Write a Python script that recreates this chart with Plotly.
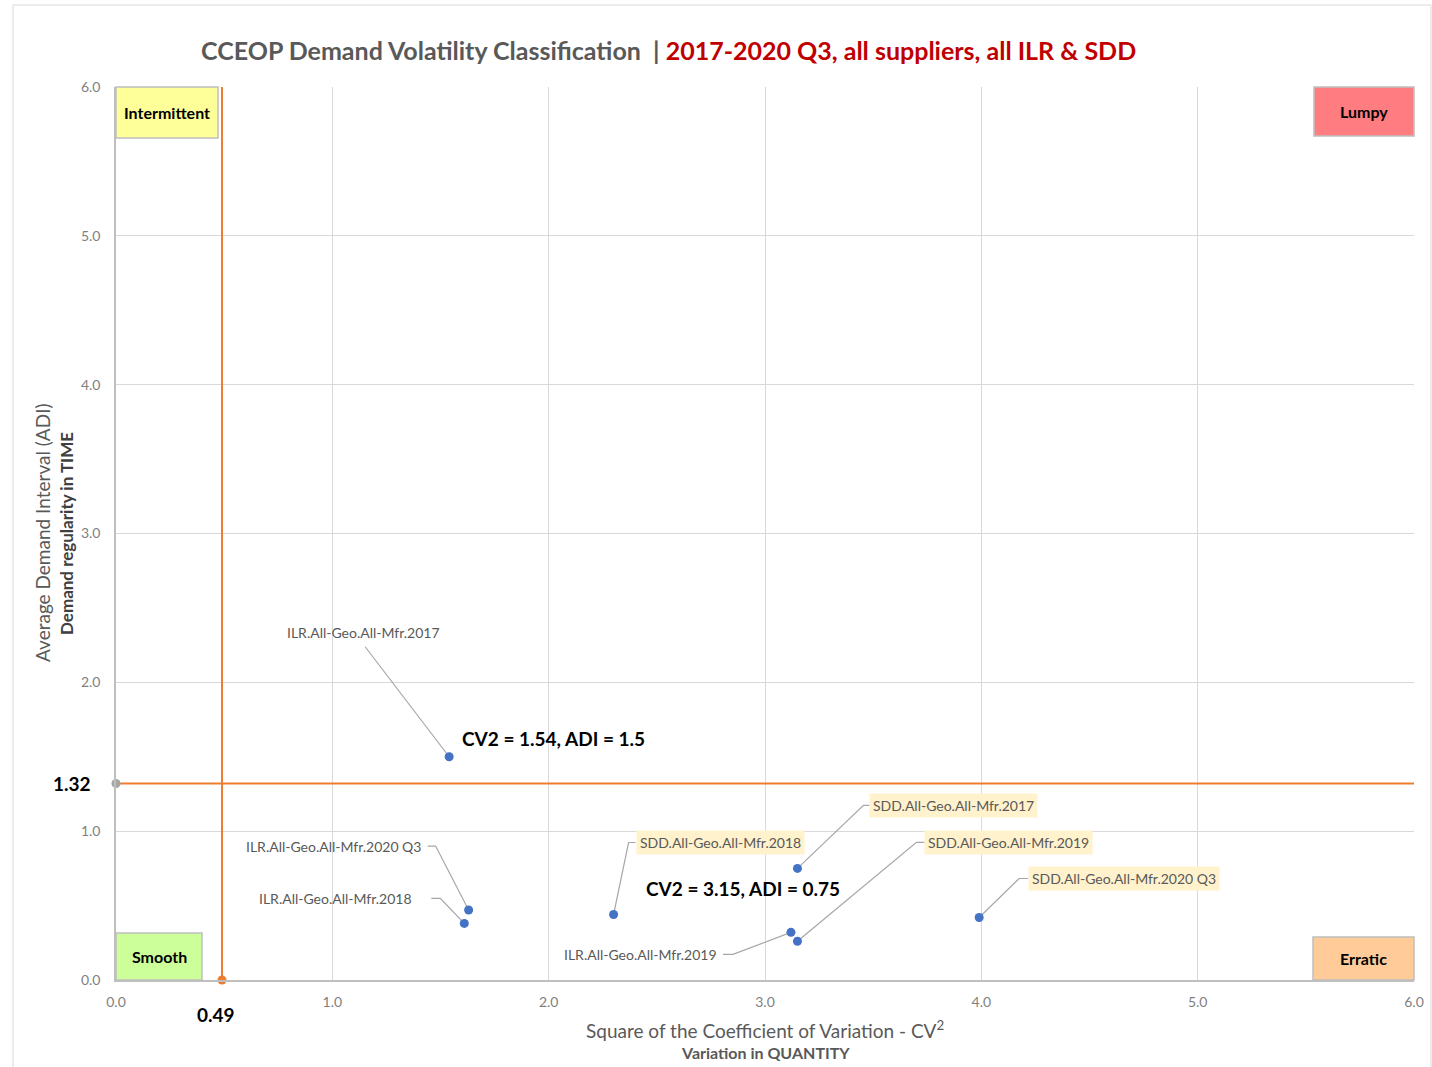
import plotly.graph_objects as go

# ---- data -------------------------------------------------------------
series_labels = [
    "ILR.All-Geo.All-Mfr.2017",
    "ILR.All-Geo.All-Mfr.2018",
    "ILR.All-Geo.All-Mfr.2019",
    "ILR.All-Geo.All-Mfr.2020 Q3",
    "SDD.All-Geo.All-Mfr.2017",
    "SDD.All-Geo.All-Mfr.2018",
    "SDD.All-Geo.All-Mfr.2019",
    "SDD.All-Geo.All-Mfr.2020 Q3",
]
cv2_values = [1.54, 1.61, 3.12, 1.63, 3.15, 2.30, 3.15, 3.99]
adi_values = [1.50, 0.38, 0.32, 0.47, 0.75, 0.44, 0.26, 0.42]

cv2_cutoff = 0.49
adi_cutoff = 1.32

quadrant_names = ["Intermittent", "Lumpy", "Smooth", "Erratic"]
tick_values = [0, 1, 2, 3, 4, 5, 6]

# ---- layout constants -------------------------------------------------
W, H = 1432, 1067
ML, MR, MT, MB = 116, 18, 87, 87
PW, PH = W - ML - MR, H - MT - MB
XR, YR = (0, 6), (0, 6)
PXU = PW / (XR[1] - XR[0])   # pixels per x unit
PYU = PH / (YR[1] - YR[0])   # pixels per y unit

GREY_TXT = "#595959"
ORANGE = "#ED7D31"
BLUE = "#4472C4"
FONT = "Lato"


def off(x, y, dx, dy):
    """Shift a data point by a pixel offset (dy positive = down)."""
    return x + dx / PXU, y - dy / PYU


def px(xp):
    return (xp - ML) / PW


def py(yp):
    return (H - MB - yp) / PH


# label placement per point: text offset, anchor, leader elbow, leader end, boxed
label_style = [
    dict(t=(-86, -124), a="center", e=(-84, -110), n=(-84, -110), box=False),
    dict(t=(-50, -25), a="right", e=(-24, -25), n=(-33, -25), box=False),
    dict(t=(-72, 22), a="right", e=(-58, 22), n=(-68, 22), box=False),
    dict(t=(-46, -64), a="right", e=(-33, -64), n=(-41, -64), box=False),
    dict(t=(72, -63), a="left", e=(66, -63), n=(72, -63), box=True),
    dict(t=(22, -72), a="left", e=(15, -72), n=(22, -72), box=True),
    dict(t=(127, -99), a="left", e=(119, -99), n=(127, -99), box=True),
    dict(t=(49, -39), a="left", e=(40, -39), n=(49, -39), box=True),
]

fig = go.Figure()

# threshold lines
fig.add_trace(go.Scatter(x=[cv2_cutoff, cv2_cutoff], y=[YR[0], YR[1]], mode="lines",
                         line=dict(color=ORANGE, width=2), hoverinfo="skip", showlegend=False))
fig.add_trace(go.Scatter(x=[XR[0], XR[1]], y=[adi_cutoff, adi_cutoff], mode="lines",
                         line=dict(color=ORANGE, width=2), hoverinfo="skip", showlegend=False))

# leader lines
for x, y, st in zip(cv2_values, adi_values, label_style):
    ex, ey = off(x, y, *st["e"])
    nx, ny = off(x, y, *st["n"])
    fig.add_trace(go.Scatter(x=[x, ex, nx], y=[y, ey, ny], mode="lines",
                             line=dict(color="#A6A6A6", width=1.2),
                             hoverinfo="skip", showlegend=False, cliponaxis=False))

# data points
fig.add_trace(go.Scatter(x=cv2_values, y=adi_values, mode="markers",
                         marker=dict(color=BLUE, size=9), text=series_labels,
                         showlegend=False, cliponaxis=False))

# cutoff markers on the axes
fig.add_trace(go.Scatter(x=[0], y=[adi_cutoff], mode="markers",
                         marker=dict(color="#A5A5A5", size=9), showlegend=False, cliponaxis=False))
fig.add_trace(go.Scatter(x=[cv2_cutoff], y=[0], mode="markers",
                         marker=dict(color=ORANGE, size=9), showlegend=False, cliponaxis=False))

ann = []

# point labels
for lab, x, y, st in zip(series_labels, cv2_values, adi_values, label_style):
    tx, ty = off(x, y, *st["t"])
    a = dict(x=tx, y=ty, xref="x", yref="y", text=lab, showarrow=False,
             xanchor=st["a"], yanchor="middle",
             font=dict(family=FONT, size=14, color=GREY_TXT))
    if st["box"]:
        a.update(bgcolor="#FFF2CC", borderpad=3)
    ann.append(a)

# value callouts for two highlighted points
for idx, (dx, dy) in [(0, (11, -18)), (4, (-153, 20))]:
    tx, ty = off(cv2_values[idx], adi_values[idx], dx, dy)
    ann.append(dict(x=tx, y=ty, xref="x", yref="y",
                    text=f"CV2 = {cv2_values[idx]:.2f}, ADI = {adi_values[idx]:g}",
                    showarrow=False, xanchor="left", yanchor="middle",
                    font=dict(family=FONT, size=19, color="black", weight="bold")))

# cutoff value labels
ann.append(dict(x=px(72), y=adi_cutoff, xref="paper", yref="y", text=f"{adi_cutoff:.2f}",
                showarrow=False, xanchor="center", yanchor="middle",
                font=dict(family=FONT, size=19, color="black", weight="bold")))
ann.append(dict(x=cv2_cutoff, y=py(1014), xref="x", yref="paper", text=f"{cv2_cutoff:.2f}",
                showarrow=False, xanchor="center", yanchor="middle", xshift=-6,
                font=dict(family=FONT, size=19, color="black", weight="bold")))

# quadrant boxes: (x0px, x1px, y0px, y1px, fill)
quad_boxes = [
    (116, 218, 87, 138, "#FFFF99"),
    (1314, 1414, 87, 136, "#FF7C80"),
    (116, 202, 933, 980, "#CCFF99"),
    (1313, 1414, 937, 980, "#FFCC99"),
]
shapes = []
for name, (x0, x1, y0, y1, fill) in zip(quadrant_names, quad_boxes):
    shapes.append(dict(type="rect", xref="paper", yref="paper",
                       x0=px(x0), x1=px(x1), y0=py(y1), y1=py(y0),
                       fillcolor=fill, line=dict(color="#BFBFBF", width=1.5), layer="above"))
    ann.append(dict(x=px((x0 + x1) / 2), y=py((y0 + y1) / 2), xref="paper", yref="paper",
                    text=name, showarrow=False, xanchor="center", yanchor="middle",
                    font=dict(family=FONT, size=16, color="black", weight="bold")))

# chart border
shapes.append(dict(type="rect", xref="paper", yref="paper",
                   x0=px(13), x1=px(1431), y0=py(1070), y1=py(5),
                   line=dict(color="#D9D9D9", width=1), fillcolor="rgba(0,0,0,0)", layer="below"))

# axis titles
ann.append(dict(x=px(765), y=py(1029), xref="paper", yref="paper",
                xanchor="center", yanchor="middle",
                text="Square of the Coefficient of Variation - CV<sup>2</sup>", showarrow=False,
                font=dict(family=FONT, size=19, color=GREY_TXT)))
ann.append(dict(x=px(765), y=py(1052), xref="paper", yref="paper",
                xanchor="center", yanchor="middle",
                text="Variation in QUANTITY", showarrow=False,
                font=dict(family=FONT, size=16, color=GREY_TXT, weight="bold")))
ann.append(dict(x=px(42), y=py(533), xref="paper", yref="paper",
                xanchor="center", yanchor="middle",
                text="Average Demand Interval (ADI)", showarrow=False, textangle=-90,
                font=dict(family=FONT, size=19, color=GREY_TXT)))
ann.append(dict(x=px(66), y=py(534), xref="paper", yref="paper",
                xanchor="center", yanchor="middle",
                text="Demand regularity in TIME", showarrow=False, textangle=-90,
                font=dict(family=FONT, size=17, color="#404040", weight="bold")))

# title
ann.append(dict(x=px(668), y=py(50), xref="paper", yref="paper", showarrow=False,
                xanchor="center", yanchor="middle",
                text=("<span style='color:#595959'>CCEOP Demand Volatility Classification</span>"
                      "<span style='color:#595959'>&nbsp;&nbsp;|&nbsp;</span>"
                      "<span style='color:#C00000'>2017-2020 Q3, all suppliers, all ILR &amp; SDD</span>"),
                font=dict(family=FONT, size=25, weight="bold")))

axis_common = dict(range=list(XR), tickvals=tick_values,
                   ticktext=[f"{v:.1f}" for v in tick_values],
                   showgrid=True, gridcolor="#D9D9D9", gridwidth=1,
                   zeroline=False, ticks="", fixedrange=True,
                   tickfont=dict(family=FONT, size=14, color="#7F7F7F"))

fig.update_layout(
    width=W, height=H,
    margin=dict(l=ML, r=MR, t=MT, b=MB, autoexpand=False),
    paper_bgcolor="white", plot_bgcolor="white",
    xaxis=dict(**axis_common, showline=True, linecolor="#BFBFBF", linewidth=1.5,
               ticklabelstandoff=8),
    yaxis=dict(**{**axis_common, "range": list(YR)}, showline=True, linecolor="#BFBFBF",
               linewidth=1.5, ticklabelstandoff=11),
    annotations=ann, shapes=shapes, showlegend=False,
)

fig.write_html("out.html")
